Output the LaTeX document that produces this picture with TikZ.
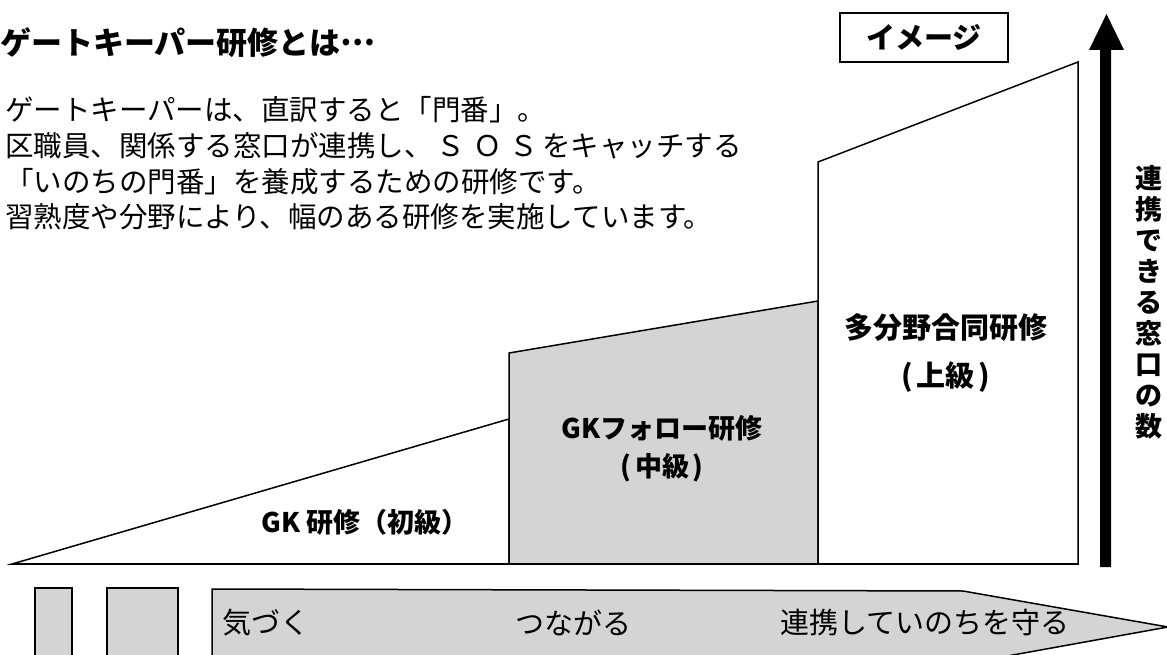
\documentclass[tikz,border=0pt]{standalone}
\usepackage{fontspec}
\setmainfont{Noto Sans CJK JP}
\begin{document}
\begin{tikzpicture}[x=1pt,y=-1pt,
  outline/.style={draw=black, line width=1.5pt, line join=miter},
  shadefill/.style={fill=black!17},
  bodyline/.style={anchor=west, inner sep=0pt, font=\fontsize{28.5}{34}\selectfont},
  label/.style={inner sep=0pt, align=center},
  bottomtext/.style={anchor=west, inner sep=0pt, font=\fontsize{29}{34}\selectfont}]
\useasboundingbox (0,0) rectangle (1167,655);
\clip (0,0) rectangle (1167,655);

% title and body text
\node[anchor=west, inner sep=0pt, font=\fontsize{31}{36}\selectfont\bfseries] (title) at (0,43) {ゲートキーパー研修とは\raisebox{0.3em}{…}};
\node[bodyline] (l1) at (5,110) {ゲートキーパーは、直訳すると「門番」。};
\node[bodyline] (l2) at (5,146) {区職員、関係する窓口が連携し、\hspace{4pt}Ｓ\hspace{8pt}Ｏ\hspace{8pt}Ｓ\hspace{4pt}をキャッチする};
\node[bodyline] (l3) at (5,182) {「いのちの門番」を養成するための研修です。};
\node[bodyline] (l4) at (5,217) {習熟度や分野により、幅のある研修を実施しています。};

% image label box
\node[draw, line width=1.5pt, minimum width=168pt, minimum height=49pt, inner sep=0pt,
      font=\fontsize{29}{34}\selectfont\bfseries] (img) at (924,37.5) {イメージ};

% training level shapes
\draw[outline, fill=white] (12,564) -- (509,419) -- (509,564) -- cycle;
\draw[outline, shadefill] (509,564) -- (509,353) -- (818,301) -- (818,564) -- cycle;
\draw[outline, fill=white] (818,564) -- (818,162) -- (1078,62) -- (1078,564) -- cycle;
\draw[line width=1.5pt] (12,564) -- (1078,564);

\node[label, font=\fontsize{27}{30}\selectfont\bfseries] (gk1) at (365,522) {GK 研修（初級）};
\node[label, font=\fontsize{27}{38}\selectfont\bfseries] (gk2) at (662,449) {GKフォロー研修\\(\hspace{4pt}中級\hspace{4pt})};
\node[label, font=\fontsize{29}{48}\selectfont\bfseries] (gk3) at (946,353) {多分野合同研修\\(\hspace{4pt}上級\hspace{4pt})};

% vertical arrow
\fill[black] (1100,567) -- (1100,50) -- (1089,50) -- (1106.5,14) -- (1124,50) -- (1111,50) -- (1111,567) -- cycle;
\node[label, font=\fontsize{27}{31}\selectfont\bfseries] (vtext) at (1149,302)
  {連\\携\\で\\き\\る\\窓\\口\\の\\数};

% bottom blocks and progress arrow
\draw[outline, shadefill] (35,588) rectangle (72,670);
\draw[outline, shadefill] (107,588) rectangle (178,670);
\draw[outline, shadefill] (212,670) -- (212,589) -- (963,591) -- (1168,627) -- (963,664) -- (963,670) -- cycle;
\node[bottomtext] (s1) at (222,623) {気づく};
\node[bottomtext] (s2) at (515,623) {つながる};
\node[bottomtext] (s3) at (780,623) {連携していのちを守る};
\end{tikzpicture}
\end{document}
